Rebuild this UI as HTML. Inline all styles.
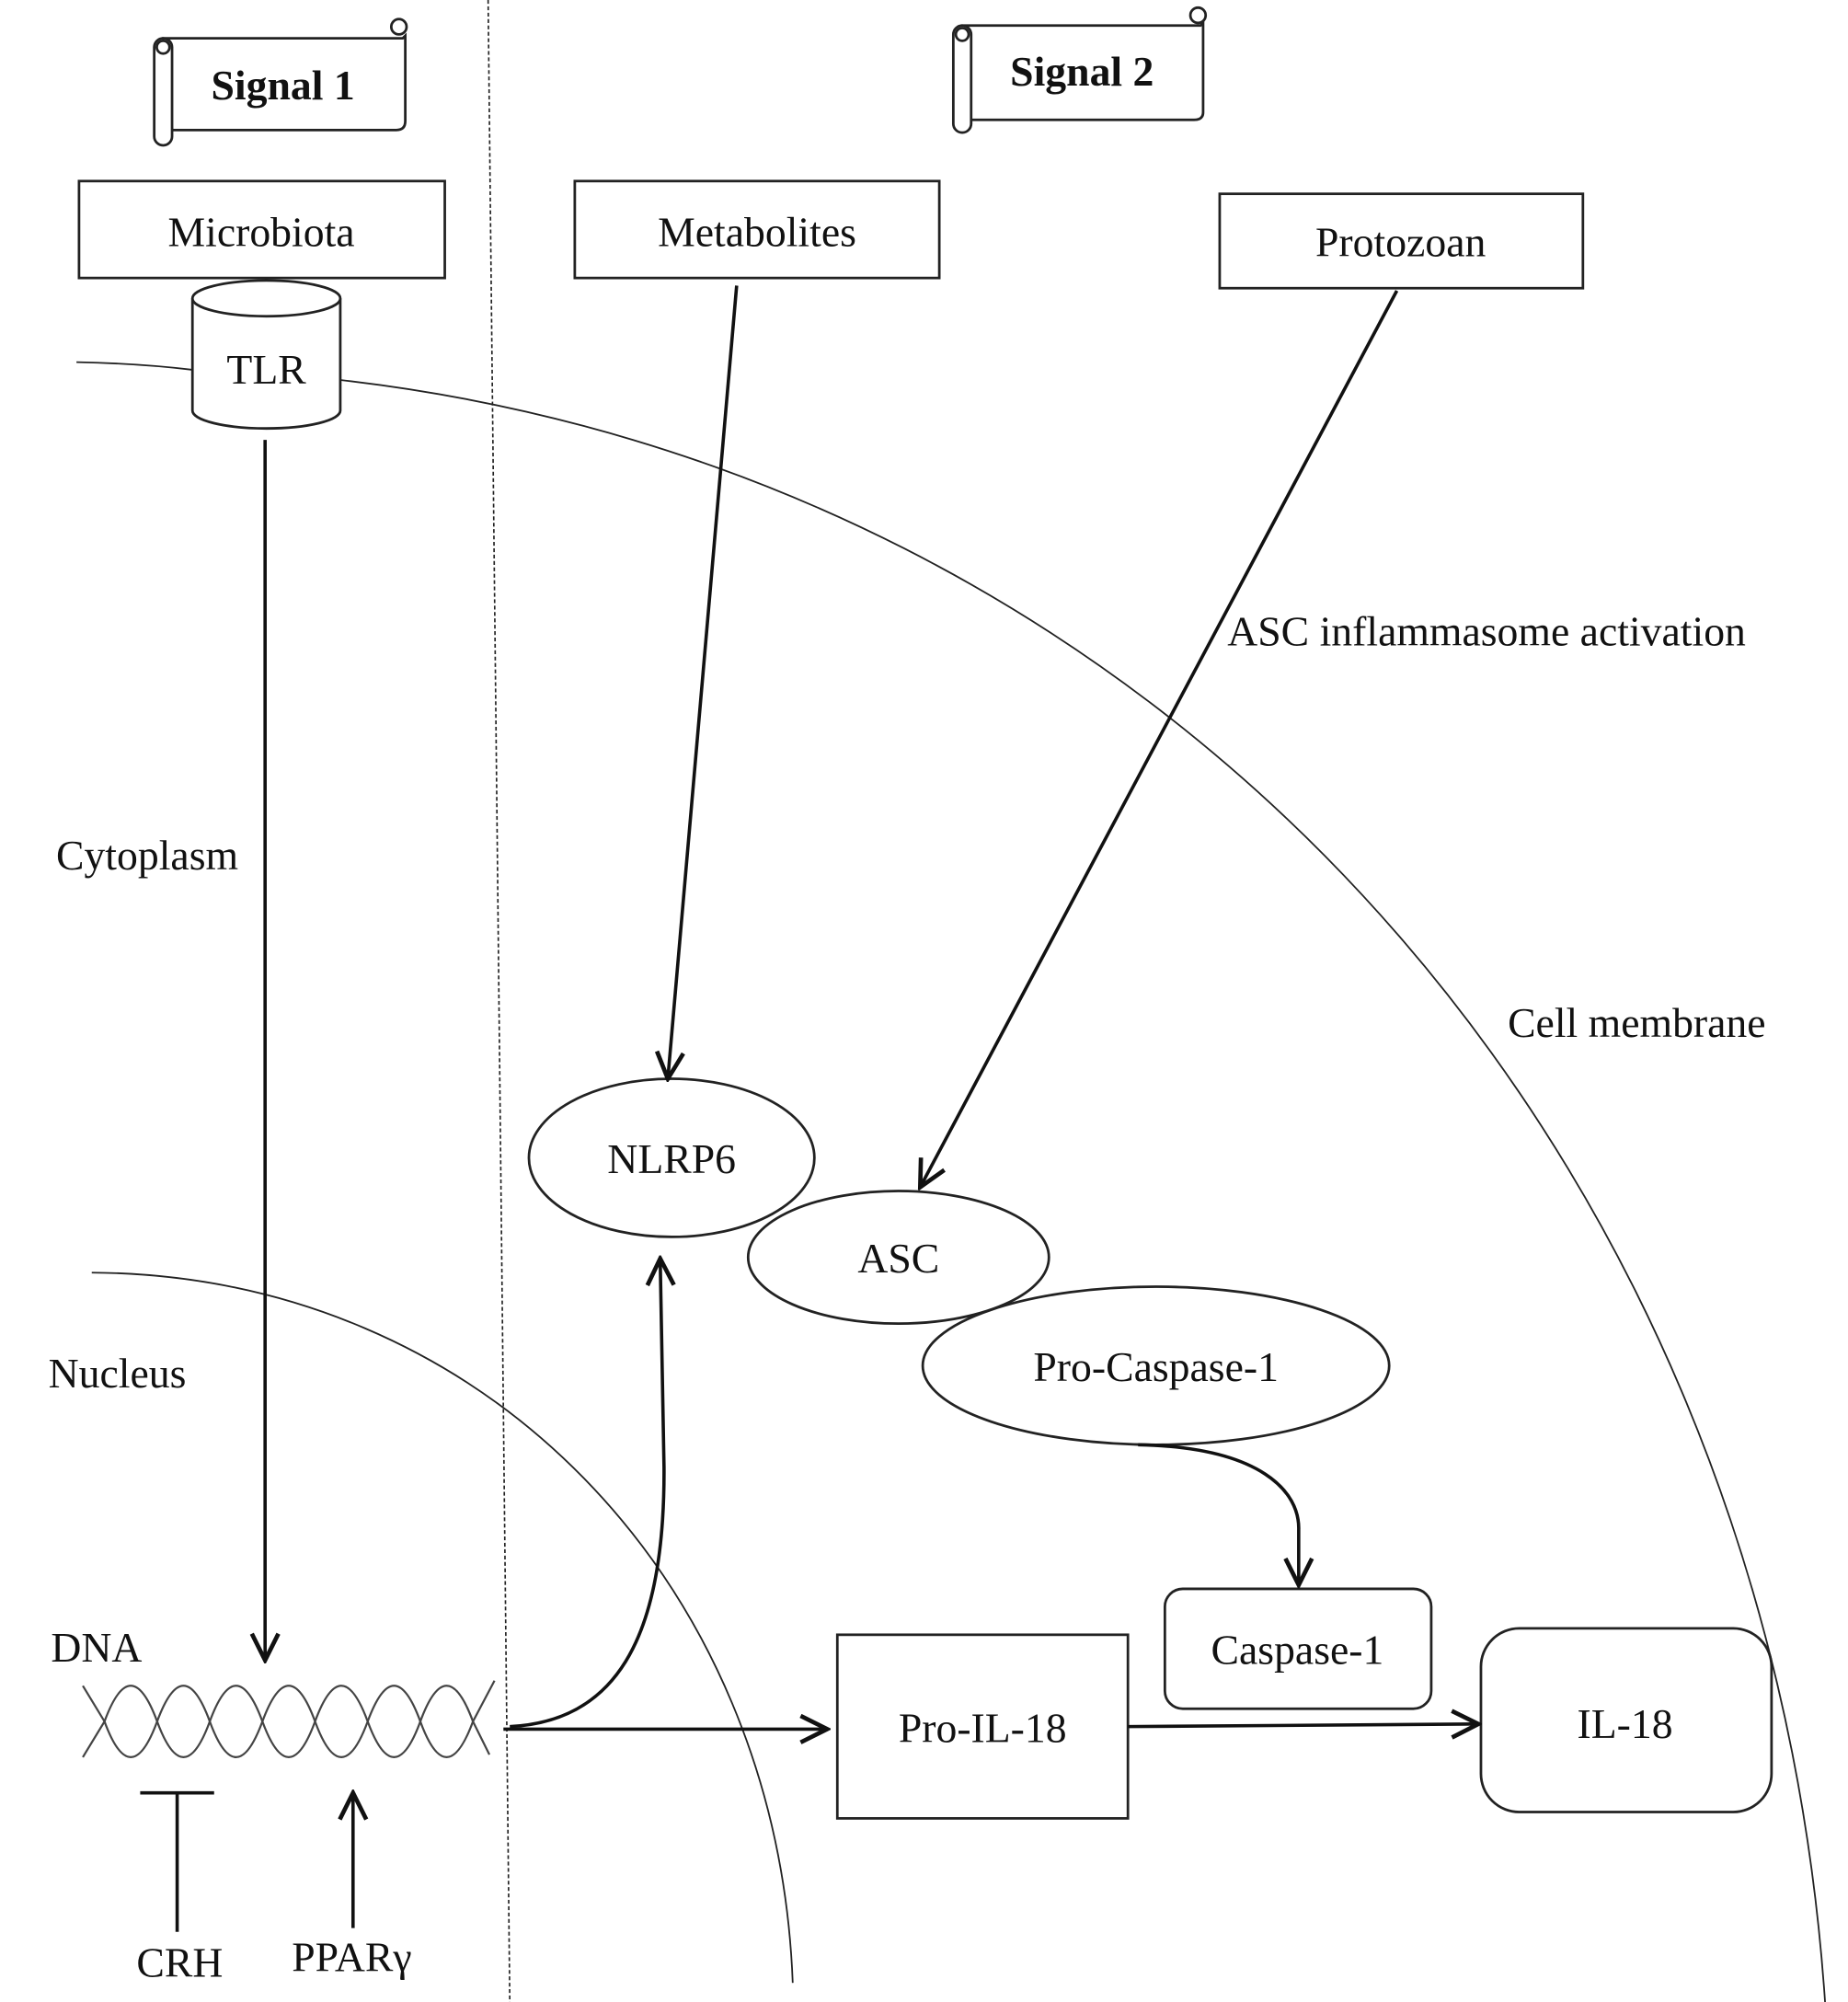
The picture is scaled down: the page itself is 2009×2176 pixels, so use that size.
<!DOCTYPE html>
<html><head><meta charset="utf-8"><style>
html,body{margin:0;padding:0;background:#fff;}
svg{display:block;}
text{font-family:"Liberation Serif",serif;fill:#111;}
</style></head><body>
<svg width="2009" height="2176" viewBox="0 0 1450 1570" preserveAspectRatio="none" xmlns="http://www.w3.org/2000/svg">
<defs>
<marker id="ar" viewBox="0 0 20 20" refX="18" refY="10" markerWidth="26" markerHeight="26" markerUnits="userSpaceOnUse" orient="auto">
<path d="M2,2 L18,10 L2,18" fill="none" stroke="#111" stroke-width="2.6"/>
</marker>
</defs>
<g fill="none" stroke="#222">
<line x1="383" y1="0" x2="400" y2="1570" stroke-width="1.2" stroke-dasharray="3,2"/>
<path d="M60,284 Q110,285 151,290" stroke-width="1.3"/>
<path d="M267,298 C900,370 1385,880 1432,1570" stroke-width="1.3"/>
<path d="M72,998 C380,1000 610,1240 622,1555" stroke-width="1.3"/>
</g>
<g fill="#fff" stroke="#222" stroke-width="2">
<path d="M128,30 L316,30 L318,28 L318,95 Q318,102 311,102 L135,102 Z"/>
<rect x="121" y="30" width="14" height="84" rx="7"/>
<circle cx="128" cy="37" r="5"/>
<circle cx="313" cy="21" r="6"/>
<path d="M755,20 L942,20 L944,18 L944,88 Q944,94 937,94 L762,94 Z"/>
<rect x="748" y="20" width="14" height="84" rx="7"/>
<circle cx="755" cy="27" r="5"/>
<circle cx="940" cy="12" r="6"/>
</g>
<text x="222" y="78" font-size="33" font-weight="bold" text-anchor="middle">Signal 1</text>
<text x="849" y="67" font-size="33" font-weight="bold" text-anchor="middle">Signal 2</text>
<g fill="none" stroke="#222" stroke-width="2">
<rect x="62" y="142" width="287" height="76"/>
<rect x="451" y="142" width="286" height="76"/>
<rect x="957" y="152" width="285" height="74"/>
<path d="M151,234 L151,322 A58,14 0 0 0 267,322 L267,234" fill="#fff"/>
<ellipse cx="209" cy="234" rx="58" ry="14" fill="#fff"/>
<ellipse cx="527" cy="908" rx="112" ry="62"/>
<ellipse cx="705" cy="986" rx="118" ry="52"/>
<ellipse cx="907" cy="1071" rx="183" ry="62"/>
<rect x="914" y="1246" width="209" height="94" rx="14"/>
<rect x="657" y="1282" width="228" height="144"/>
<rect x="1162" y="1277" width="228" height="144" rx="30"/>
</g>
<g font-size="33" text-anchor="middle">
<text x="205" y="193">Microbiota</text>
<text x="594" y="193">Metabolites</text>
<text x="1099" y="201">Protozoan</text>
<text x="209" y="301">TLR</text>
<text x="527" y="920">NLRP6</text>
<text x="705" y="998">ASC</text>
<text x="907" y="1083">Pro-Caspase-1</text>
<text x="1018" y="1305">Caspase-1</text>
<text x="771" y="1366">Pro-IL-18</text>
<text x="1275" y="1363">IL-18</text>
<text x="141" y="1550">CRH</text>
<text x="276" y="1546">PPARγ</text>
</g>
<g font-size="33">
<text x="963" y="506">ASC inflammasome activation</text>
<text x="44" y="682">Cytoplasm</text>
<text x="1183" y="813">Cell membrane</text>
<text x="38" y="1088">Nucleus</text>
<text x="40" y="1303">DNA</text>
</g>
<g fill="none" stroke="#111" stroke-width="2.6">
<line x1="208" y1="345" x2="208" y2="1302" marker-end="url(#ar)"/>
<line x1="578" y1="224" x2="524" y2="846" marker-end="url(#ar)"/>
<line x1="1096" y1="228" x2="722" y2="931" marker-end="url(#ar)"/>
<path d="M893,1133 C990,1135 1020,1170 1019,1200 L1019,1243" marker-end="url(#ar)"/>
<line x1="395" y1="1356" x2="649" y2="1356" marker-end="url(#ar)"/>
<path d="M400,1354 C480,1350 522,1290 521,1150 L518,987" marker-end="url(#ar)"/>
<line x1="885" y1="1354" x2="1160" y2="1352" marker-end="url(#ar)"/>
<line x1="277" y1="1512" x2="277" y2="1406" marker-end="url(#ar)"/>
<line x1="139" y1="1406" x2="139" y2="1515"/>
<line x1="110" y1="1406" x2="168" y2="1406"/>
</g>
<g fill="none" stroke="#444" stroke-width="1.6">
<path d="M65,1378 L82,1350 Q102.6,1294 123.3,1350 T164.6,1350 T205.9,1350 T247.2,1350 T288.5,1350 T329.8,1350 T371.1,1350 L384,1376"/>
<path d="M65,1322 L82,1350 Q102.6,1406 123.3,1350 T164.6,1350 T205.9,1350 T247.2,1350 T288.5,1350 T329.8,1350 T371.1,1350 L388,1318"/>
</g>
</svg>
</body></html>
